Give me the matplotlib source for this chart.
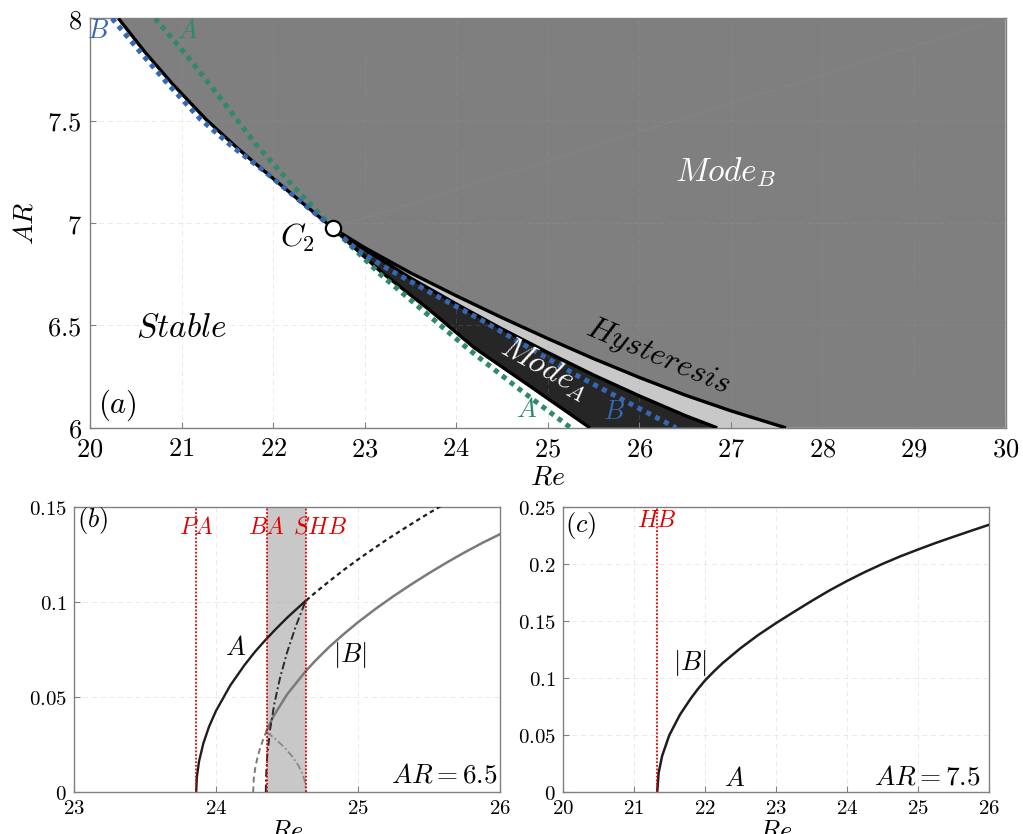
import matplotlib
matplotlib.use("Agg")
from matplotlib import pyplot as P
from matplotlib.ticker import FuncFormatter

P.rcParams['mathtext.fontset'] = 'cm'
P.rcParams['font.family'] = 'serif'

# ---- (a) regime map in the (Re, AR) plane ----
C2 = (22.65, 6.976)

# stable / mode B boundary above C2
re_top = [20.31, 20.6, 20.9, 21.27, 21.6, 21.9, 22.2, 22.45, 22.65]
ar_top = [8.0, 7.835, 7.68, 7.505, 7.37, 7.255, 7.143, 7.05, 6.976]

# below C2: stable / mode A boundary
re_low = [22.65, 23.17, 23.71, 24.2, 24.8, 25.46]
ar_low = [6.976, 6.765, 6.575, 6.39, 6.205, 6.0]

# mode A / hysteresis boundary
re_mid = [22.65, 23.0, 23.5, 24.0, 24.5, 25.0, 25.5, 26.0, 26.5, 26.85]
ar_mid = [6.976, 6.872, 6.732, 6.605, 6.483, 6.368, 6.258, 6.156, 6.06, 6.0]

# hysteresis / mode B boundary
re_up = [22.65, 23.0, 23.5, 24.0, 24.5, 25.0, 25.5, 26.0, 26.5, 27.0, 27.6]
ar_up = [6.976, 6.880, 6.757, 6.645, 6.538, 6.436, 6.338, 6.246, 6.160, 6.083, 6.0]

# linear stability curves of modes A and B
re_linA = [20.71, 21.09, 21.46, 21.82, 22.18, 22.65, 23.17, 23.71, 24.13, 24.7, 25.25]
ar_linA = [8.0, 7.80, 7.59, 7.38, 7.20, 6.976, 6.75, 6.545, 6.385, 6.185, 6.0]
re_linB = [20.24, 20.55, 20.85, 21.2, 21.55, 21.9, 22.2, 22.45, 22.65, 22.9, 23.2, 23.7,
           24.26, 24.8, 25.3, 25.85, 26.4]
ar_linB = [8.0, 7.835, 7.68, 7.51, 7.375, 7.255, 7.143, 7.05, 6.976, 6.875, 6.79, 6.665,
           6.53, 6.39, 6.26, 6.13, 6.0]

# ---- (b) bifurcation diagram, AR = 6.5 ----
re_PA, re_BA, re_SHB = 23.857, 24.357, 24.634
re_A_b = [23.86, 23.865, 23.88, 23.91, 23.95, 24.0, 24.1, 24.2, 24.275, 24.35, 24.425,
          24.5, 24.57, 24.634]
A_b = [0.0, 0.0081, 0.0162, 0.0256, 0.0344, 0.0429, 0.0562, 0.0669, 0.0740, 0.0803,
       0.0862, 0.0918, 0.0966, 0.1009]
re_A_b_uns = [24.634, 24.7, 24.8, 24.9, 25.0, 25.1, 25.2, 25.3, 25.4, 25.5, 25.62]
A_b_uns = [0.1009, 0.1051, 0.1112, 0.1170, 0.1225, 0.1277, 0.1328, 0.1376, 0.1423,
           0.1469, 0.1522]
re_B_b_uns = [24.261, 24.265, 24.275, 24.29, 24.31, 24.335, 24.357]
B_b_uns = [0.0, 0.0066, 0.0124, 0.0178, 0.0232, 0.0285, 0.0325]
re_B_b = [24.357, 24.4, 24.5, 24.634, 24.7, 24.8, 24.9, 25.0, 25.125, 25.25, 25.375,
          25.5, 25.625, 25.75, 25.875, 26.0]
B_b = [0.0325, 0.0395, 0.0515, 0.0640, 0.0693, 0.0767, 0.0833, 0.0895, 0.0966, 0.1032,
       0.1094, 0.1153, 0.1209, 0.1262, 0.1312, 0.1358]
# mixed-mode branch between BA and SHB
re_mix = [24.35, 24.352, 24.36, 24.38, 24.41, 24.45, 24.5, 24.56, 24.634]
A_mix = [0.0, 0.0085, 0.019, 0.0329, 0.0465, 0.0601, 0.0736, 0.0871, 0.1013]
re_mixB = [24.357, 24.42, 24.48, 24.54, 24.58, 24.61, 24.625, 24.634]
B_mix = [0.0316, 0.0279, 0.0237, 0.0185, 0.0140, 0.0094, 0.0057, 0.0]

# ---- (c) bifurcation diagram, AR = 7.5 ----
re_HB = 21.33
re_B_c = [21.33, 21.35, 21.4, 21.5, 21.65, 21.8, 21.9, 22.0, 22.125, 22.25, 22.5, 22.75,
          23.0, 23.25, 23.5, 23.75, 24.0, 24.25, 24.5, 24.75, 25.0, 25.25, 25.5, 25.75, 26.0]
B_c = [0.0, 0.017, 0.032, 0.050, 0.068, 0.082, 0.0903, 0.0978, 0.1058, 0.1132, 0.1262,
       0.1378, 0.1482, 0.1580, 0.1676, 0.1768, 0.1852, 0.1930, 0.2002, 0.2068, 0.2128,
       0.2186, 0.2240, 0.2293, 0.2345]

red = '#e00000'
green = '#2e8a68'
blue = '#3567b3'
spine_col = '#808080'

mfmt = FuncFormatter(lambda v, pos: r'$%g$' % v)


def style_axis(ax, fs):
    for s in ax.spines.values():
        s.set_color(spine_col)
        s.set_linewidth(1.0)
    ax.tick_params(direction='in', length=4, color=spine_col, labelsize=fs, pad=5)
    ax.xaxis.set_major_formatter(mfmt)
    ax.yaxis.set_major_formatter(mfmt)
    ax.grid(True, ls=(0, (5, 4)), lw=0.7, color='#a0a0a0', alpha=0.22, zorder=4)


fig = P.figure(figsize=(10.23, 8.34), dpi=100)

# ---------------- panel (a) ----------------
ax = fig.add_axes([0.088, 0.487, 0.895, 0.491])
ax.set_xlim(20, 30)
ax.set_ylim(6, 8)

gx = re_top + re_up[1:] + [30, 30]
gy = ar_top + ar_up[1:] + [6, 8]
ax.fill(gx, gy, color='#7f7f7f', lw=0, zorder=1)
ax.fill(re_up + re_mid[::-1], ar_up + ar_mid[::-1], color='#c8c8c8', lw=0, zorder=1)
ax.fill(re_mid + re_low[::-1], ar_mid + ar_low[::-1], color='#262626', lw=0, zorder=1)
ax.plot([C2[0], 29.9], [C2[1], 7.99], color='#878787', lw=0.5, zorder=2)

for xs, ys in [(re_top, ar_top), (re_low, ar_low), (re_mid, ar_mid), (re_up, ar_up)]:
    ax.plot(xs, ys, color='k', lw=2.4, zorder=5, solid_capstyle='butt')

ax.plot(re_linA, ar_linA, color=green, lw=3.6, ls=(0, (1, 1)), zorder=6)
ax.plot(re_linB, ar_linB, color=blue, lw=3.6, ls=(0, (1, 1)), zorder=6)
ax.plot(*C2, marker='o', ms=11, mfc='w', mec='k', mew=1.6, zorder=8, clip_on=False)

style_axis(ax, 19)
ax.tick_params(pad=6)
ax.set_xticks(range(20, 31))
ax.set_yticks([6, 6.5, 7, 7.5, 8])
ax.set_xlabel(r'$Re$', fontsize=20, labelpad=2)
ax.set_ylabel(r'$AR$', fontsize=20, labelpad=6)

ax.text(21.0, 6.49, r'$Stable$', fontsize=24, ha='center', va='center', zorder=9)
ax.text(26.94, 7.25, r'$Mode_B$', fontsize=24, color='w', ha='center', va='center', zorder=9)
ax.text(24.97, 6.29, r'$Mode_A$', fontsize=23, color='w', ha='center', va='center',
        rotation=-29, rotation_mode='anchor', zorder=9)
ax.text(26.2, 6.35, r'$Hysteresis$', fontsize=23, color='k', ha='center', va='center',
        rotation=-23, rotation_mode='anchor', zorder=9)
ax.text(22.27, 6.93, r'$C_2$', fontsize=23, ha='center', va='center', zorder=9)
ax.text(20.3, 6.11, r'$(a)$', fontsize=22, ha='center', va='center', zorder=9)
ax.text(21.06, 7.94, r'$A$', fontsize=19, color=green, ha='center', va='center', zorder=9)
ax.text(24.77, 6.09, r'$A$', fontsize=19, color=green, ha='center', va='center', zorder=9)
ax.text(20.09, 7.94, r'$B$', fontsize=19, color=blue, ha='center', va='center', zorder=9)
ax.text(25.72, 6.08, r'$B$', fontsize=19, color=blue, ha='center', va='center', zorder=9)

# ---------------- panel (b) ----------------
bx = fig.add_axes([0.0723, 0.050, 0.4167, 0.342])
bx.set_xlim(23, 26)
bx.set_ylim(0, 0.15)
bx.axvspan(re_BA, re_SHB, color='#c8c8c8', lw=0, zorder=1)
for r in (re_PA, re_BA, re_SHB):
    bx.axvline(r, color=red, lw=1.3, ls=(0, (1, 1)), zorder=6)
bx.plot(re_A_b, A_b, color='#1e1e1e', lw=1.7, zorder=5)
bx.plot(re_A_b_uns, A_b_uns, color='#1e1e1e', lw=1.6, ls=(0, (2, 1.6)), zorder=5)
bx.plot(re_B_b, B_b, color='#7a7a7a', lw=1.8, zorder=5)
bx.plot(re_B_b_uns, B_b_uns, color='#7a7a7a', lw=1.4, ls=(0, (3, 2)), zorder=5)
bx.plot(re_mix, A_mix, color='#2a2a2a', lw=1.4, ls=(0, (4, 1.5, 1, 1.5)), zorder=5)
bx.plot(re_mixB, B_mix, color='#8a8a8a', lw=1.3, ls=(0, (4, 1.5, 1, 1.5)), zorder=5)

style_axis(bx, 15)
bx.set_xticks([23, 24, 25, 26])
bx.set_yticks([0, 0.05, 0.1, 0.15])
bx.set_xlabel(r'$Re$', fontsize=19, labelpad=0)
bx.text(23.13, 0.143, r'$(b)$', fontsize=19, ha='center', va='center')
bx.text(re_PA, 0.1395, r'$PA$', fontsize=17, color=red, ha='center', va='center', zorder=7)
bx.text(re_BA, 0.1395, r'$BA$', fontsize=17, color=red, ha='center', va='center', zorder=7)
bx.text(24.73, 0.1395, r'$SHB$', fontsize=17, color=red, ha='center', va='center', zorder=7)
bx.text(24.14, 0.0763, r'$A$', fontsize=19, ha='center', va='center')
bx.text(24.94, 0.072, r'$|B|$', fontsize=19, ha='center', va='center')
bx.text(25.98, 0.009, r'$AR=6.5$', fontsize=19.5, ha='right', va='center')

# ---------------- panel (c) ----------------
cx = fig.add_axes([0.550, 0.050, 0.4169, 0.342])
cx.set_xlim(20, 26)
cx.set_ylim(0, 0.25)
cx.axvline(re_HB, color=red, lw=1.3, ls=(0, (1, 1)), zorder=6)
cx.plot(re_B_c, B_c, color='#1e1e1e', lw=1.8, zorder=5)

style_axis(cx, 15)
cx.set_xticks(range(20, 27))
cx.set_yticks([0, 0.05, 0.1, 0.15, 0.2, 0.25])
cx.set_xlabel(r'$Re$', fontsize=19, labelpad=0)
cx.text(20.26, 0.234, r'$(c)$', fontsize=19, ha='center', va='center')
cx.text(21.32, 0.2386, r'$HB$', fontsize=17, color=red, ha='center', va='center', zorder=7)
cx.text(21.79, 0.113, r'$|B|$', fontsize=19, ha='center', va='center')
cx.text(22.42, 0.012, r'$A$', fontsize=19, ha='center', va='center')
cx.text(25.88, 0.013, r'$AR=7.5$', fontsize=19.5, ha='right', va='center')

fig.savefig('out.png', dpi=100, facecolor='w')
